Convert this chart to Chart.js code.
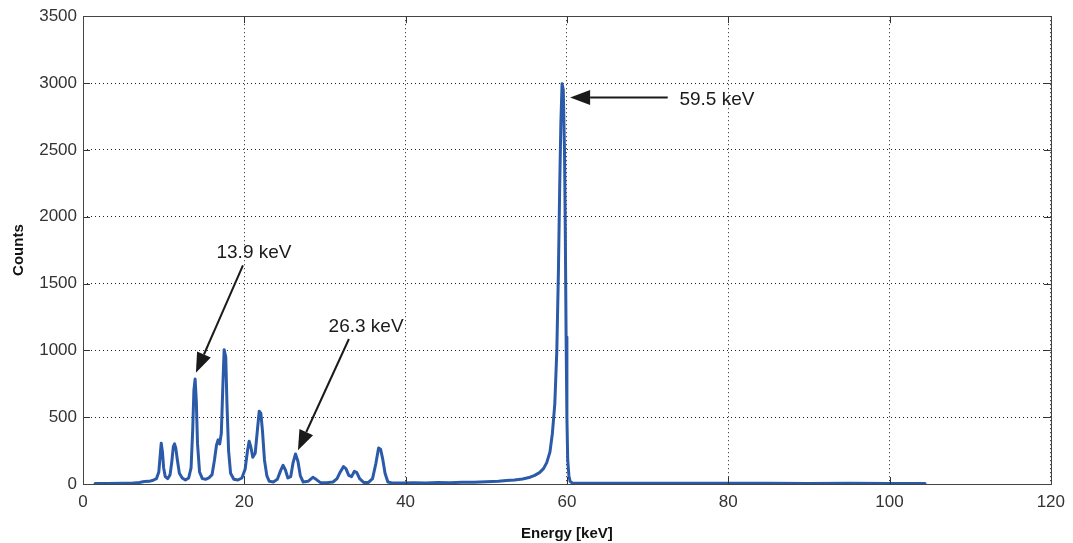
<!DOCTYPE html>
<html>
<head>
<meta charset="utf-8">
<script src="https://cdn.jsdelivr.net/npm/chart.js@4.4.1/dist/chart.umd.min.js"></script>
<style>
html,body{margin:0;padding:0;background:#fff;}
#wrap{width:1073px;height:543px;position:relative;}
</style>
</head>
<body>
<div id="wrap"><canvas id="c" width="1073" height="543"></canvas></div>
<script>
// ---- data ----
const energies = [1.5,3,5,6,7,7.6,8.2,8.7,9.1,9.4,9.55,9.7,9.85,10.0,10.2,10.5,10.8,11.0,11.2,11.35,11.5,11.7,11.95,12.3,12.7,13.1,13.4,13.6,13.75,13.9,14.05,14.2,14.45,14.8,15.2,15.6,16.0,16.3,16.55,16.75,16.95,17.15,17.35,17.5,17.7,17.85,18.05,18.3,18.7,19.2,19.7,20.1,20.4,20.6,20.8,21.05,21.35,21.65,21.85,22.05,22.25,22.5,22.8,23.1,23.6,24.1,24.5,24.8,25.1,25.4,25.75,26.05,26.35,26.65,26.95,27.3,27.9,28.5,28.9,29.4,30.2,31.0,31.5,31.9,32.3,32.6,32.95,33.3,33.65,33.95,34.3,34.8,35.4,35.9,36.3,36.65,36.9,37.15,37.45,37.8,38.3,39.5,41,42.5,44,45.5,47,48.5,50,51.5,52.5,53.5,54.5,55.3,56.0,56.6,57.1,57.5,57.9,58.2,58.5,58.75,58.95,59.1,59.25,59.4,59.55,59.7,59.8,59.9,60.0,60.1,60.25,60.4,60.7,62,65,70,75,80,85,90,95,100,104.4];
const counts = [4,4,5,6,12,18,20,28,40,90,200,305,240,120,55,40,70,160,280,300,270,180,80,45,30,45,120,400,700,785,620,300,90,40,35,45,70,180,290,330,300,380,750,1005,950,600,250,80,35,30,45,110,250,320,280,200,230,420,545,530,400,180,60,20,15,35,100,140,105,45,55,160,225,170,60,15,20,50,35,12,10,15,40,90,130,115,65,55,95,85,40,12,12,40,150,270,260,190,80,15,8,7,9,8,11,10,13,14,17,20,26,30,38,48,65,85,115,160,240,380,600,1000,1600,2200,2700,2995,2950,2500,1900,1100,500,180,60,20,6,6,5,6,5,6,5,4,5,4,4];

const xTicks = [0,20,40,60,80,100,120];
const yTicks = [0,500,1000,1500,2000,2500,3000,3500];

// annotations (data coordinates)
const noteLabels = ['59.5 keV','13.9 keV','26.3 keV'];
const noteTextX  = [78.6, 21.2, 35.1];
const noteTextY  = [2876, 1731, 1174];
const arrowTailX = [72.5, 19.83, 32.97];
const arrowTailY = [2891, 1635, 1085];
const arrowTipX  = [60.4, 14.0, 26.65];
const arrowTipY  = [2891, 832, 253];

const points = energies.map((e,i)=>({x:e,y:counts[i]}));
const FONT = '"Liberation Sans", Arial, sans-serif';

const framePlugin = {
  id:'frame',
  afterDatasetsDraw(chart){
    const {ctx, chartArea:a, scales} = chart;
    const xs = scales.x, ys = scales.y;
    ctx.save();
    ctx.strokeStyle = '#333';
    ctx.lineWidth = 1;
    ctx.beginPath();
    xTicks.forEach(v=>{
      const px = Math.round(xs.getPixelForValue(v))+0.5;
      ctx.moveTo(px,a.bottom); ctx.lineTo(px,a.bottom-7);
      ctx.moveTo(px,a.top); ctx.lineTo(px,a.top+7);
    });
    yTicks.forEach(v=>{
      const py = Math.round(ys.getPixelForValue(v))+0.5;
      ctx.moveTo(a.left,py); ctx.lineTo(a.left+7,py);
      ctx.moveTo(a.right,py); ctx.lineTo(a.right-7,py);
    });
    ctx.stroke();
    ctx.strokeStyle = '#444';
    ctx.strokeRect(Math.round(a.left)+0.5, Math.round(a.top)+0.5, Math.round(a.right-a.left), Math.round(a.bottom-a.top));
    ctx.strokeStyle = '#1a1a1a';
    ctx.fillStyle = '#1a1a1a';
    ctx.lineWidth = 2;
    for(let i=0;i<noteLabels.length;i++){
      const x1 = xs.getPixelForValue(arrowTailX[i]), y1 = ys.getPixelForValue(arrowTailY[i]);
      const x2 = xs.getPixelForValue(arrowTipX[i]),  y2 = ys.getPixelForValue(arrowTipY[i]);
      const ang = Math.atan2(y2-y1,x2-x1);
      const hl = 20, hw = 7.5;
      const bx = x2 - hl*Math.cos(ang), by = y2 - hl*Math.sin(ang);
      ctx.beginPath(); ctx.moveTo(x1,y1); ctx.lineTo(bx,by); ctx.stroke();
      ctx.beginPath();
      ctx.moveTo(x2,y2);
      ctx.lineTo(bx + hw*Math.sin(ang), by - hw*Math.cos(ang));
      ctx.lineTo(bx - hw*Math.sin(ang), by + hw*Math.cos(ang));
      ctx.closePath(); ctx.fill();
      ctx.font = '19px ' + FONT;
      ctx.textAlign = 'center'; ctx.textBaseline = 'middle';
      ctx.fillText(noteLabels[i], xs.getPixelForValue(noteTextX[i]), ys.getPixelForValue(noteTextY[i]));
    }
    ctx.restore();
  }
};

new Chart(document.getElementById('c'), {
  type:'line',
  data:{datasets:[{
    data:points,
    borderColor:'#2b5aa8',
    borderWidth:3,
    borderJoinStyle:'round',
    borderCapStyle:'round',
    pointRadius:0,
    tension:0,
    fill:false
  }]},
  options:{
    responsive:false,
    animation:false,
    events:[],
    layout:{padding:{top:13,right:22,left:0,bottom:0}},
    plugins:{legend:{display:false},tooltip:{enabled:false}},
    scales:{
      x:{
        type:'linear', min:0, max:120,
        afterBuildTicks(s){ s.ticks = xTicks.map(v=>({value:v})); },
        afterFit(s){ s.height = 59; },
        border:{display:false, dash:[1,3]},
        grid:{color:'#222', lineWidth:1, drawTicks:false},
        ticks:{color:'#333', font:{family:FONT, size:17}, padding:8, maxRotation:0, callback:v=>String(v)},
        title:{display:true, text:'Energy [keV]', color:'#111', font:{family:FONT, size:15, weight:'bold'}, padding:{top:1,bottom:0}}
      },
      y:{
        type:'linear', min:0, max:3500,
        afterBuildTicks(s){ s.ticks = yTicks.map(v=>({value:v})); },
        afterFit(s){ s.width = 83; },
        border:{display:false, dash:[1,3]},
        grid:{color:'#222', lineWidth:1, drawTicks:false},
        ticks:{color:'#333', font:{family:FONT, size:17}, padding:6, callback:v=>String(v)},
        title:{display:true, text:'Counts', color:'#111', font:{family:FONT, size:15, weight:'bold'}, padding:{top:10,bottom:4}}
      }
    }
  },
  plugins:[framePlugin]
});
</script>
</body>
</html>
